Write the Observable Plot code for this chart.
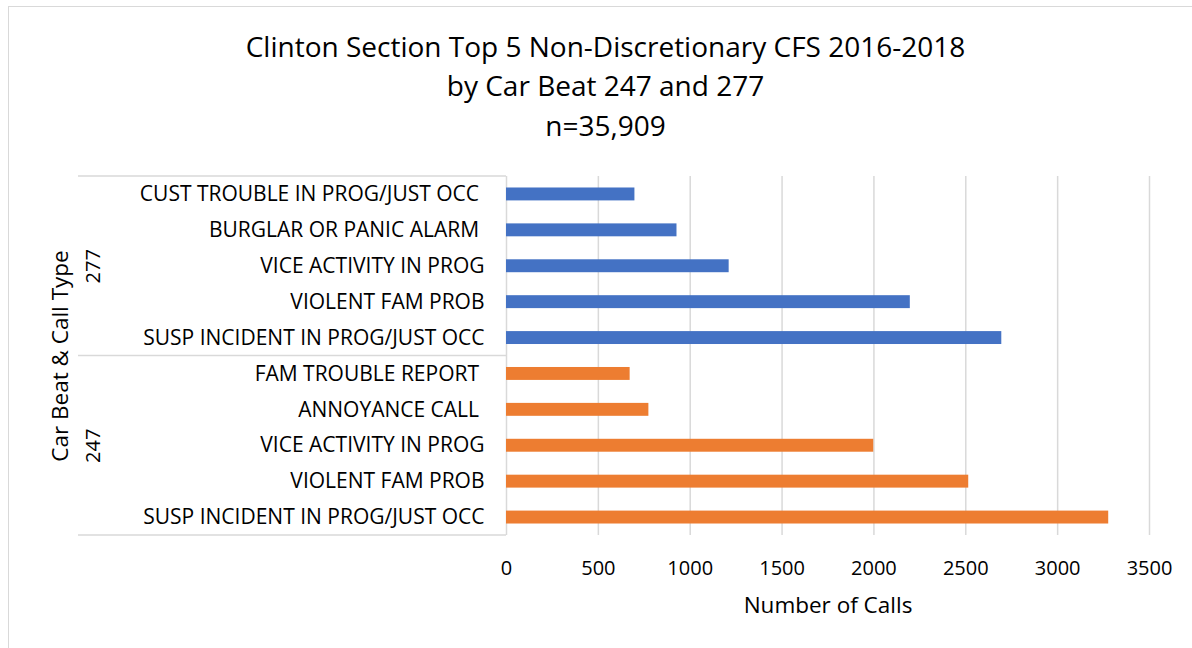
<!DOCTYPE html>
<html>
<head>
<meta charset="utf-8">
<script src="https://cdn.jsdelivr.net/npm/d3@7"></script>
<script src="https://cdn.jsdelivr.net/npm/@observablehq/plot@0.6"></script>
<style>
  html, body { margin: 0; padding: 0; background: #fff; }
  #chart { position: relative; width: 1192px; height: 648px; overflow: hidden; }
  #border { position: absolute; left: 8px; top: 6px; right: -4px; bottom: -4px;
            border-top: 1.5px solid #d9d9d9; border-left: 1.5px solid #d9d9d9; pointer-events: none; }
  #chart svg { position: absolute; left: 0; top: 0; }
  #chart svg text { white-space: pre; }
</style>
</head>
<body>
<div id="chart"><div id="border"></div></div>
<script>
// Top five non-discretionary call types per car beat, 2016-2018
const beats = ["277", "247"];
const callTypes277 = ["CUST TROUBLE IN PROG/JUST OCC ", "BURGLAR OR PANIC ALARM ", "VICE ACTIVITY IN PROG", "VIOLENT FAM PROB", "SUSP INCIDENT IN PROG/JUST OCC"];
const calls277 = [699, 928, 1212, 2198, 2696];
const callTypes247 = ["FAM TROUBLE REPORT ", "ANNOYANCE CALL ", "VICE ACTIVITY IN PROG", "VIOLENT FAM PROB", "SUSP INCIDENT IN PROG/JUST OCC"];
const calls247 = [673, 775, 1999, 2516, 3278];
const xTicks = [0, 500, 1000, 1500, 2000, 2500, 3000, 3500];
const titleLines = ["Clinton Section Top 5 Non-Discretionary CFS 2016-2018", "by Car Beat 247 and 277", "n=35,909"];
const xTitle = "Number of Calls";
const yTitle = "Car Beat & Call Type";

const colors = ["#4472C4", "#ED7D31"];
const font = "'Open Sans', 'Noto Sans', sans-serif";

// One row per (beat, call type); the key keeps repeated call types distinct
const groups = [
  {beat: beats[0], types: callTypes277, calls: calls277},
  {beat: beats[1], types: callTypes247, calls: calls247}
];
const rows = groups.flatMap(g => g.types.map((t, i) => ({beat: g.beat, type: t, key: g.beat + "|" + t, calls: g.calls[i]})));
const keys = rows.map(r => r.key);
const middleKeys = groups.map(g => g.beat + "|" + g.types[Math.floor(g.types.length / 2)]);

const plot = Plot.plot({
  width: 1192,
  height: 648,
  marginLeft: 506,
  marginRight: 43,
  marginTop: 176,
  marginBottom: 113,
  style: {fontFamily: font, fontSize: "20px", color: "#000", background: "transparent", overflow: "visible"},
  x: {domain: [0, 3500]},
  y: {domain: keys, paddingInner: 0.64, paddingOuter: 0.32, round: false},
  color: {domain: beats, range: colors},
  marks: [
    Plot.gridX(xTicks, {stroke: "#d9d9d9", strokeOpacity: 1, strokeWidth: 1.5}),
    Plot.axisX(xTicks, {tickSize: 0, tickPadding: 25, tickFormat: d => String(d), fontSize: 20, fill: "#000", label: null}),
    Plot.axisY({tickSize: 0, tickPadding: 22, tickFormat: k => k.split("|")[1], fontSize: 21, fill: "#000", label: null}),
    Plot.barX(rows, {y: "key", x: "calls", fill: "beat"}),
    // axis titles
    Plot.text([xTitle], {frameAnchor: "bottom", dy: 70, lineAnchor: "middle", fontSize: 22.5, fill: "#000"}),
    Plot.text([yTitle], {frameAnchor: "left", dx: -446, rotate: -90, textAnchor: "middle", lineAnchor: "middle", fontSize: 22.5, fill: "#000"}),
    // beat numbers, rotated beside each group of five
    Plot.text(groups, {
      y: (g, i) => middleKeys[i],
      text: "beat",
      frameAnchor: "left",
      dx: -413,
      rotate: -90,
      textAnchor: "middle",
      lineAnchor: "middle",
      fontSize: 20,
      fill: "#000"
    }),
    // chart title
    Plot.text([titleLines.join("\n")], {
      frameAnchor: "top-left",
      dx: 99,
      dy: -93,
      lineAnchor: "middle",
      lineHeight: 1.41,
      textAnchor: "middle",
      fontSize: 28,
      fill: "#000"
    })
  ]
});

// Group separators spanning the category label area
const ys = plot.scale("y");
const gap = (ys.step - ys.bandwidth) / 2;
const bounds = [
  ys.apply(keys[0]) - gap,
  ys.apply(keys[callTypes277.length]) - gap,
  ys.apply(keys[keys.length - 1]) + ys.bandwidth + gap
];
d3.select(plot).append("g")
  .attr("stroke", "#d9d9d9")
  .attr("stroke-width", 1.5)
  .selectAll("line")
  .data(bounds)
  .join("line")
  .attr("x1", 78)
  .attr("x2", 506)
  .attr("y1", d => d)
  .attr("y2", d => d);

document.getElementById("chart").appendChild(plot);
</script>
</body>
</html>
